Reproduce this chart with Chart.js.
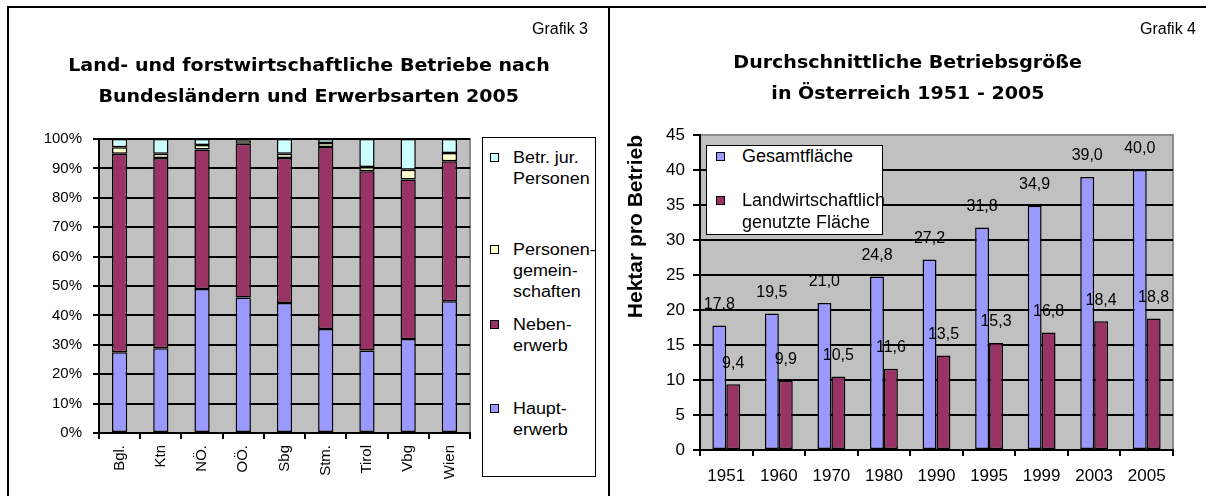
<!DOCTYPE html>
<html>
<head>
<meta charset="utf-8">
<script src="https://cdn.jsdelivr.net/npm/chart.js@4.4.1/dist/chart.umd.min.js"></script>
<style>
html,body{margin:0;padding:0;background:#fff;width:1206px;height:496px;overflow:hidden;font-family:Arial,"Liberation Sans",sans-serif;color:#000;}
canvas{position:absolute;top:0;}
#c1{left:0;}
#c2{left:610px;}
.line{position:absolute;background:#000;z-index:5;}
.title{position:absolute;text-align:center;font-family:"DejaVu Sans",Arial,sans-serif;font-weight:bold;font-size:17px;line-height:20px;white-space:nowrap;z-index:3;}
.title span{display:inline-block;transform:scaleX(1.12);}
.grafik{position:absolute;font-size:16px;line-height:18px;text-align:right;white-space:nowrap;z-index:3;}
.legend{position:absolute;background:#fff;border:1px solid #000;box-sizing:border-box;z-index:4;}
.entry{position:absolute;white-space:nowrap;}
.entry i{position:absolute;left:0;border:1px solid #000;box-sizing:border-box;}
.entry span{position:absolute;display:block;transform-origin:0 50%;}
</style>
</head>
<body>
<div class="line" style="left:7px;top:6px;width:1199px;height:2px"></div>
<div class="line" style="left:7px;top:6px;width:2px;height:490px"></div>
<div class="line" style="left:608px;top:6px;width:2px;height:490px"></div>

<div class="grafik" style="left:470px;width:118px;top:20px">Grafik 3</div>
<div class="grafik" style="left:1078px;width:118px;top:20px">Grafik 4</div>

<div class="title" style="left:9px;width:599px;top:55px"><span>Land- und forstwirtschaftliche Betriebe nach</span></div>
<div class="title" style="left:9px;width:599px;top:86px"><span>Bundesländern und Erwerbsarten 2005</span></div>
<div class="title" style="left:610px;width:596px;top:52px"><span>Durchschnittliche Betriebsgröße</span></div>
<div class="title" style="left:610px;width:596px;top:83px"><span>in Österreich 1951 - 2005</span></div>

<div class="legend" id="leg1" style="left:482px;top:137px;width:114px;height:340px"></div>
<div class="legend" id="leg2" style="left:706px;top:145px;width:177px;height:90px"></div>

<canvas id="c1" width="610" height="496"></canvas>
<canvas id="c2" width="596" height="496"></canvas>

<script>
// Grafik 3: Anteile je Bundesland (%)
const REGIONS   = ['Bgl.', 'Ktn', 'NÖ.', 'OÖ.', 'Sbg', 'Stm.', 'Tirol', 'Vbg', 'Wien'];
const HAUPT     = [27.5, 28.8, 49.0, 46.1, 44.2, 35.4, 28.1, 32.0, 44.8];
const NEBEN     = [67.5, 64.7, 47.4, 52.3, 49.3, 61.9, 60.9, 54.2, 47.6];
const PERS_GEM  = [2.2, 1.5, 1.6, 1.2, 1.5, 1.3, 1.5, 3.3, 2.8];
const JUR_PERS  = [2.8, 5.0, 2.0, 0.4, 5.0, 1.4, 9.5, 10.5, 4.8];
const SERIES_LEFT = ['Haupt-\nerwerb', 'Neben-\nerwerb', 'Personen-\ngemein-\nschaften', 'Betr. jur.\nPersonen'];
const PCT_TICKS = [0, 10, 20, 30, 40, 50, 60, 70, 80, 90, 100];

// Grafik 4: Hektar pro Betrieb
const YEARS     = ['1951', '1960', '1970', '1980', '1990', '1995', '1999', '2003', '2005'];
const GESAMT    = [17.8, 19.5, 21.0, 24.8, 27.2, 31.8, 34.9, 39.0, 40.0];
const LANDW     = [9.4, 9.9, 10.5, 11.6, 13.5, 15.3, 16.8, 18.4, 18.8];
const SERIES_RIGHT = ['Gesamtfläche', 'Landwirtschaftlich\ngenutzte Fläche'];

const FONT = 'Arial, "Liberation Sans", sans-serif';
const COL_HAUPT = '#9999FF', COL_NEBEN = '#993366', COL_PG = '#FFFFCC', COL_JUR = '#CCFFFF';

Chart.defaults.font.family = FONT;
Chart.defaults.color = '#000';

const plotBg = {
  id: 'plotBg',
  beforeDraw(chart) {
    const {ctx, chartArea: a} = chart;
    ctx.save();
    ctx.fillStyle = '#C0C0C0';
    ctx.fillRect(a.left, a.top, a.right - a.left, a.bottom - a.top);
    ctx.strokeStyle = '#8C8C8C';
    ctx.lineWidth = 2;
    ctx.strokeRect(a.left, a.top, a.right - a.left, a.bottom - a.top);
    ctx.restore();
  }
};

const valueLabels = {
  id: 'valueLabels',
  afterDatasetsDraw(chart) {
    const {ctx} = chart;
    ctx.save();
    ctx.font = '16px ' + FONT;
    ctx.fillStyle = '#000';
    ctx.textAlign = 'center';
    ctx.textBaseline = 'middle';
    chart.data.datasets.forEach((ds, i) => {
      chart.getDatasetMeta(i).data.forEach((bar, j) => {
        ctx.fillText(ds.data[j].toFixed(1).replace('.', ','), bar.x, bar.y - 21);
      });
    });
    ctx.restore();
  }
};

function barSet(label, data, color, extra) {
  return Object.assign({label, data, backgroundColor: color, borderColor: '#000', borderWidth: 1.5, borderSkipped: false}, extra);
}

// ---- Grafik 3
new Chart(document.getElementById('c1'), {
  type: 'bar',
  data: {
    labels: REGIONS,
    datasets: [
      barSet(SERIES_LEFT[0], HAUPT, COL_HAUPT, {barPercentage: 0.37, categoryPercentage: 1}),
      barSet(SERIES_LEFT[1], NEBEN, COL_NEBEN, {barPercentage: 0.37, categoryPercentage: 1}),
      barSet(SERIES_LEFT[2], PERS_GEM, COL_PG, {barPercentage: 0.37, categoryPercentage: 1}),
      barSet(SERIES_LEFT[3], JUR_PERS, COL_JUR, {barPercentage: 0.37, categoryPercentage: 1})
    ]
  },
  options: {
    responsive: false, animation: false, devicePixelRatio: 1,
    layout: {padding: {left: 0, top: 139, right: 140, bottom: 0}},
    plugins: {legend: {display: false}, tooltip: {enabled: false}},
    scales: {
      x: {
        stacked: true,
        grid: {display: true, drawOnChartArea: false, drawTicks: true, tickLength: 6, color: '#000', lineWidth: 2, offset: true},
        border: {display: true, color: '#000', width: 2},
        ticks: {font: {size: 15}, minRotation: 90, maxRotation: 90, autoSkip: false, padding: 6},
        afterFit: s => { s.height = 63; }
      },
      y: {
        stacked: true, min: 0, max: 100,
        afterBuildTicks: s => { s.ticks = PCT_TICKS.map(v => ({value: v})); },
        grid: {color: '#000', lineWidth: 2, tickLength: 6},
        border: {display: true, color: '#000', width: 2},
        ticks: {font: {size: 15}, padding: 11, callback: v => v + '%'},
        afterFit: s => { s.width = 99; }
      }
    }
  },
  plugins: [plotBg]
});

// ---- Grafik 4
new Chart(document.getElementById('c2'), {
  type: 'bar',
  data: {
    labels: YEARS,
    datasets: [
      barSet(SERIES_RIGHT[0], GESAMT, COL_HAUPT, {barPercentage: 1, categoryPercentage: 0.53}),
      barSet(SERIES_RIGHT[1], LANDW, COL_NEBEN, {barPercentage: 1, categoryPercentage: 0.53})
    ]
  },
  options: {
    responsive: false, animation: false, devicePixelRatio: 1,
    layout: {padding: {left: 0, top: 135, right: 33, bottom: 0}},
    plugins: {legend: {display: false}, tooltip: {enabled: false}},
    scales: {
      x: {
        grid: {display: true, drawOnChartArea: false, drawTicks: true, tickLength: 6, color: '#000', lineWidth: 2, offset: true},
        border: {display: true, color: '#000', width: 2},
        ticks: {font: {size: 17}, maxRotation: 0, autoSkip: false, padding: 10},
        afterFit: s => { s.height = 46; }
      },
      y: {
        min: 0, max: 45,
        ticks: {stepSize: 5, font: {size: 17}, padding: 8},
        grid: {color: c => c.tick && c.tick.value === 45 ? '#8C8C8C' : '#000', tickColor: '#000', lineWidth: 2, tickLength: 7},
        border: {display: true, color: '#000', width: 2},
        title: {display: true, text: 'Hektar pro Betrieb', align: 'end', font: {size: 21, weight: 'bold'}, padding: {top: 14, bottom: 0}},
        afterFit: s => { s.width = 90; }
      }
    }
  },
  plugins: [plotBg, valueLabels]
});

// ---- HTML legends
function addEntry(box, text, color, top, opt) {
  const e = document.createElement('div');
  e.className = 'entry';
  e.style.left = opt.x + 'px';
  e.style.top = top + 'px';
  const sq = document.createElement('i');
  sq.style.background = color;
  sq.style.width = sq.style.height = opt.sq + 'px';
  sq.style.top = (opt.lh - opt.sq) / 2 + 'px';
  const t = document.createElement('span');
  t.style.left = opt.gap + 'px';
  t.style.fontSize = opt.fs + 'px';
  t.style.lineHeight = opt.lh + 'px';
  t.style.transform = 'scaleX(' + opt.sx + ')';
  t.innerHTML = text.split('\n').join('<br>');
  e.appendChild(sq);
  e.appendChild(t);
  box.appendChild(e);
}

const leg1 = document.getElementById('leg1');
const opt1 = {x: 7, sq: 9, gap: 23, fs: 16, lh: 21, sx: 1.12};
addEntry(leg1, SERIES_LEFT[3], COL_JUR, 9, opt1);
addEntry(leg1, SERIES_LEFT[2], COL_PG, 101, opt1);
addEntry(leg1, SERIES_LEFT[1], COL_NEBEN, 176, opt1);
addEntry(leg1, SERIES_LEFT[0], COL_HAUPT, 260, opt1);

const leg2 = document.getElementById('leg2');
const opt2 = {x: 9, sq: 9, gap: 26, fs: 18, lh: 22, sx: 1.0};
addEntry(leg2, SERIES_RIGHT[0], COL_HAUPT, -1, opt2);
addEntry(leg2, SERIES_RIGHT[1], COL_NEBEN, 43, opt2);
</script>
</body>
</html>
